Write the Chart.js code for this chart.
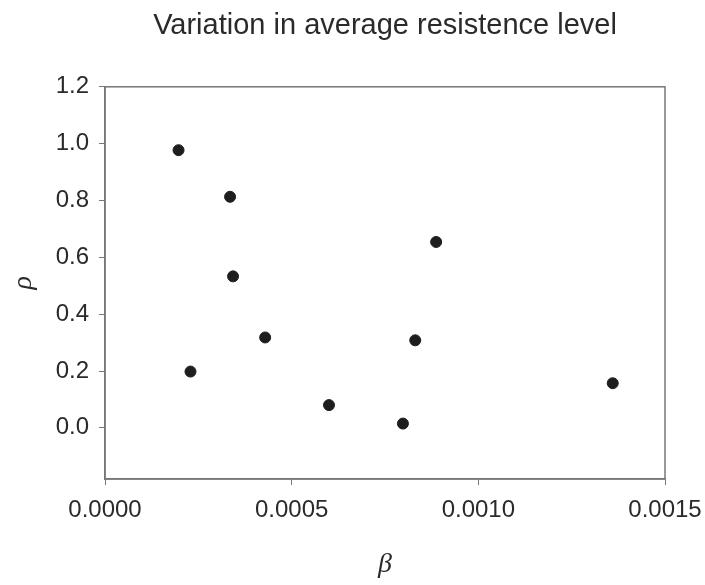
<!DOCTYPE html>
<html>
<head>
<meta charset="utf-8">
<script src="https://cdn.jsdelivr.net/npm/chart.js@4"></script>
<style>
  html, body { margin: 0; padding: 0; background: #fff; }
  #wrap { width: 705px; height: 585px; }
</style>
</head>
<body>
<div id="wrap"><canvas id="chart" width="705" height="585"></canvas></div>
<script>
const betaValues = [0.000197, 0.000335, 0.000343, 0.000429, 0.000229, 0.000887, 0.000831, 0.00136, 0.000798, 0.0006];
const rhoValues = [0.977, 0.813, 0.533, 0.318, 0.198, 0.654, 0.308, 0.157, 0.015, 0.08];
const xTicks = [0, 0.0005, 0.001, 0.0015];
const yTicks = [0, 0.2, 0.4, 0.6, 0.8, 1.0, 1.2];

const points = betaValues.map((b, i) => ({ x: b, y: rhoValues[i] }));

// box round the plot area (top and right edges too)
const frame = {
  id: "frame",
  afterDraw(chart) {
    const { ctx, chartArea: a } = chart;
    ctx.save();
    ctx.strokeStyle = "#777";
    ctx.lineWidth = 1.5;
    ctx.strokeRect(a.left, a.top, a.right - a.left, a.bottom - a.top);
    ctx.restore();
  }
};

const tickFont = { family: "Liberation Sans, Arial", size: 24 };

new Chart(document.getElementById("chart"), {
  type: "scatter",
  data: {
    datasets: [{
      data: points,
      backgroundColor: "#1e1e1e",
      borderColor: "#1e1e1e",
      pointRadius: 5.5,
      pointHoverRadius: 5.5
    }]
  },
  options: {
    responsive: false,
    animation: false,
    layout: { padding: { left: 0, right: 40, top: 0, bottom: 0 } },
    plugins: {
      legend: { display: false },
      tooltip: { enabled: false },
      title: {
        display: true,
        fullSize: false,
        text: "Variation in average resistence level",
        color: "#2a2a2a",
        font: { family: "Liberation Sans, Arial", size: 29, weight: "normal" },
        padding: { top: 9, bottom: 43 }
      }
    },
    scales: {
      x: {
        type: "linear",
        min: 0,
        max: 0.0015,
        afterBuildTicks: (s) => { s.ticks = xTicks.map(v => ({ value: v })); },
        afterFit: (s) => {
          s.height = 106;
          s.paddingLeft = 0;
          s.paddingRight = 0;
        },
        ticks: {
          color: "#2a2a2a",
          font: tickFont,
          padding: 11,
          maxRotation: 0,
          callback: (v) => v.toFixed(4)
        },
        grid: { drawOnChartArea: false, drawTicks: true, tickLength: 6, color: "#777" },
        border: { color: "#777", width: 1.5 },
        title: {
          display: true,
          text: "β",
          color: "#2a2a2a",
          font: { family: "Liberation Serif", size: 28, style: "italic" },
          padding: { top: 0, bottom: 4 }
        }
      },
      y: {
        min: -0.18,
        max: 1.2,
        afterBuildTicks: (s) => { s.ticks = yTicks.map(v => ({ value: v })); },
        afterFit: (s) => { s.width = 105; },
        ticks: {
          color: "#2a2a2a",
          font: tickFont,
          padding: 10,
          callback: (v) => v.toFixed(1)
        },
        grid: { drawOnChartArea: false, drawTicks: true, tickLength: 6, color: "#777" },
        border: { color: "#777", width: 1.5 },
        title: {
          display: true,
          text: "ρ",
          color: "#2a2a2a",
          font: { family: "Liberation Serif", size: 28, style: "italic" },
          padding: { top: 7, bottom: 0 }
        }
      }
    }
  },
  plugins: [frame]
});
</script>
</body>
</html>
